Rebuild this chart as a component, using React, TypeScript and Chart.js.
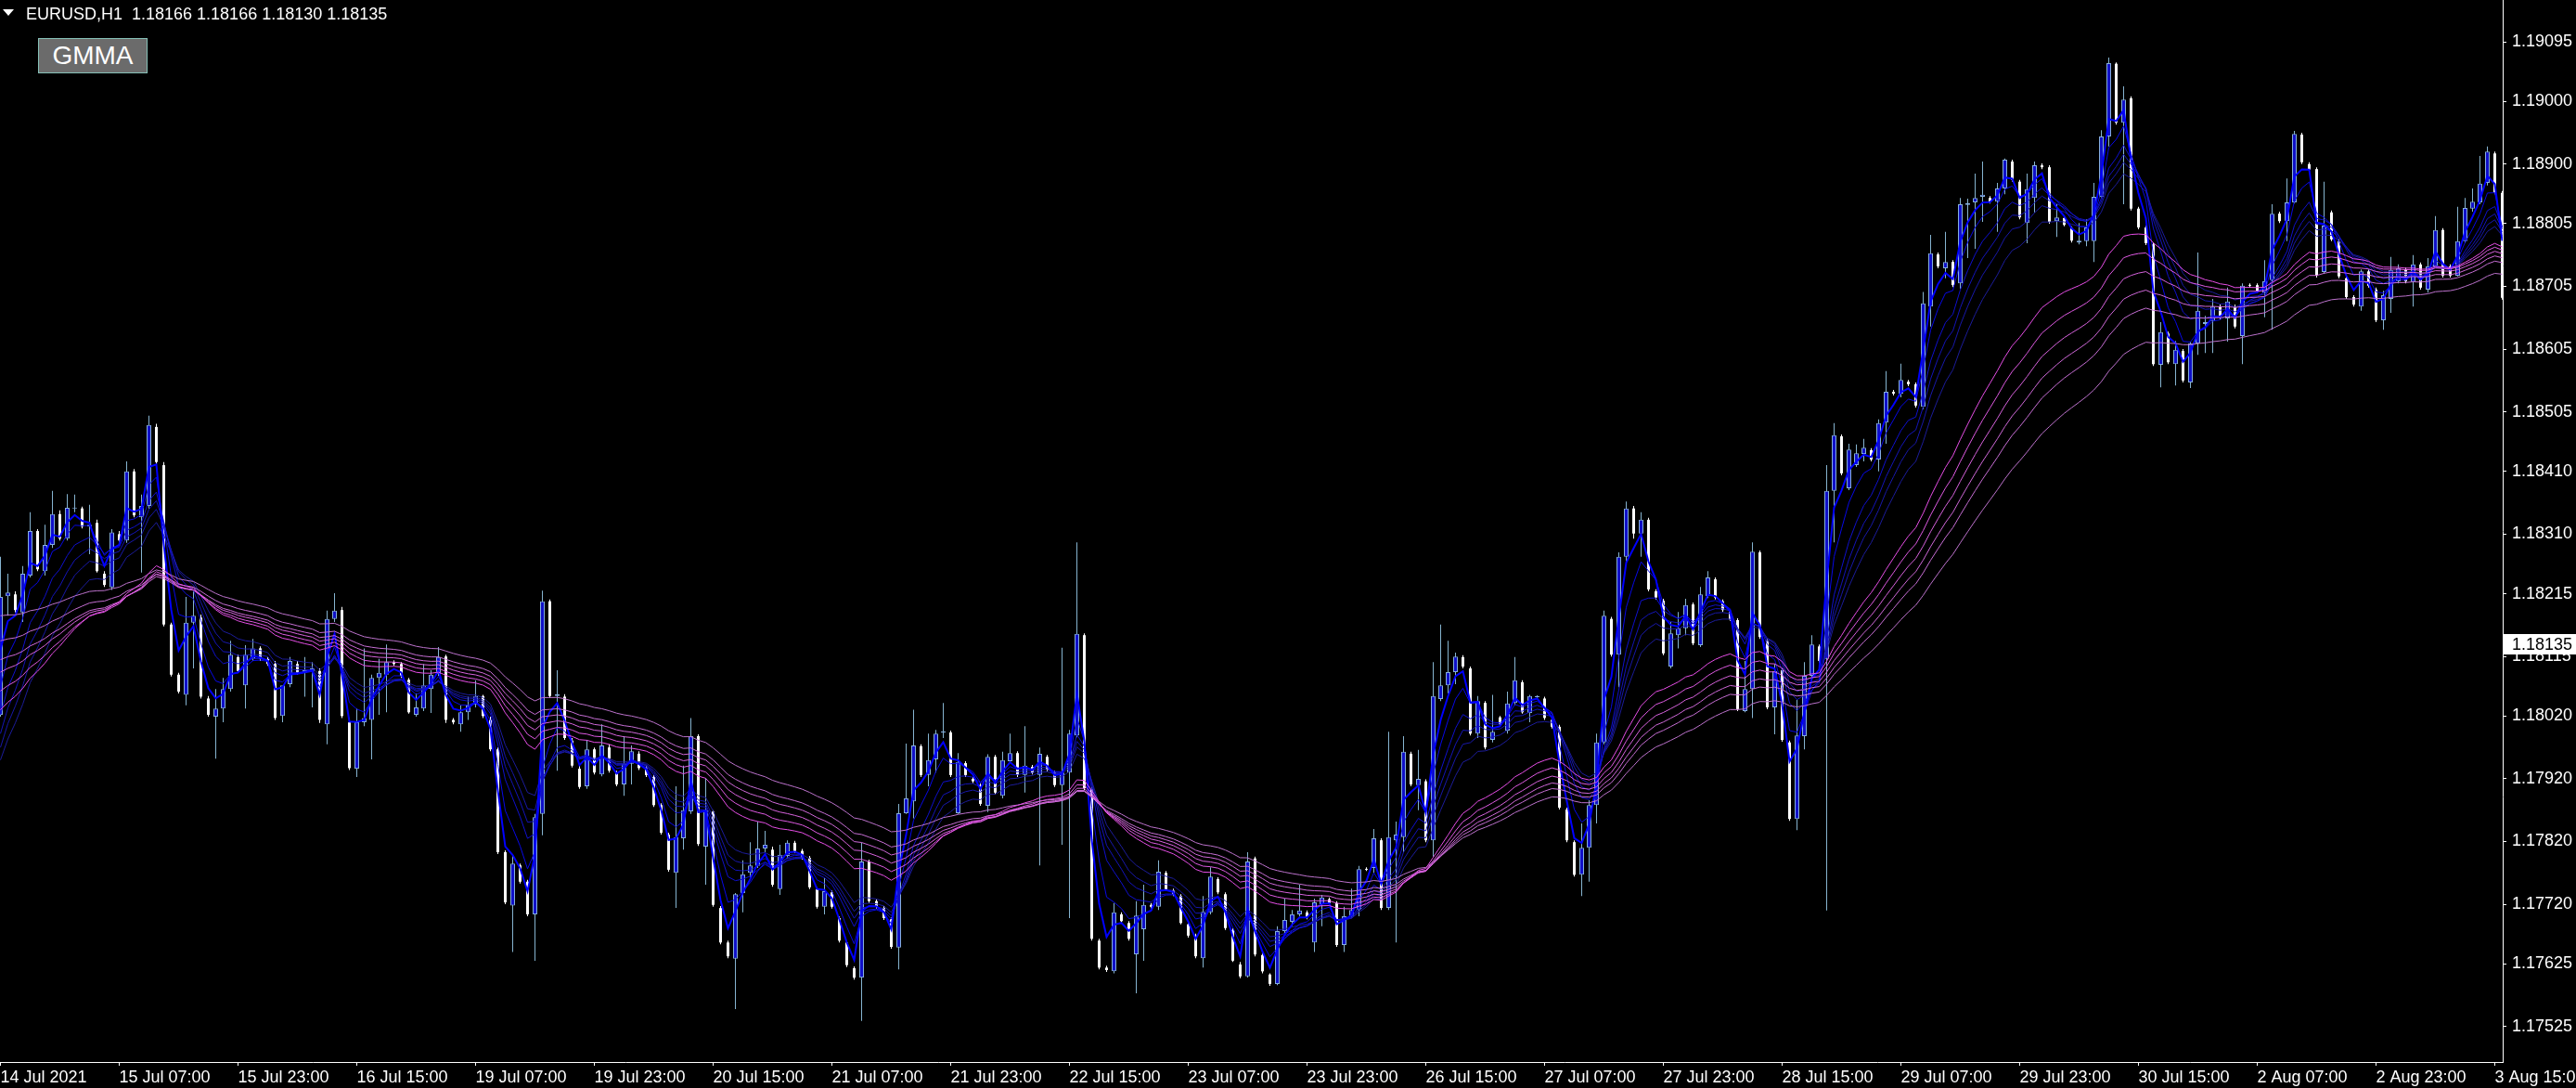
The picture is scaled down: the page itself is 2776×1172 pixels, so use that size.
import React, { useEffect, useRef } from 'react';
import { Chart, registerables } from 'chart.js';

Chart.register(...registerables);

// ---- Candle data (EURUSD H1, 14 Jul 2021 15:00 → 3 Aug 2021) ----
const opens = [
  1.18022,1.18211,1.18214,1.18185,1.18244,1.18315,1.18251,1.18293,1.18342,1.18303,
  1.18351,1.18351,1.18322,1.18328,1.18247,1.18225,1.18310,1.18300,1.18410,1.18337,
  1.18355,1.18481,1.18420,1.18166,1.18086,1.18054,1.18169,1.18177,1.18048,1.18019,
  1.18032,1.18063,1.18114,1.18069,1.18111,1.18128,1.18111,1.18103,1.18020,1.18071,
  1.18103,1.18089,1.18092,1.18092,1.18007,1.18175,1.18189,1.18010,1.17936,1.18010,
  1.18014,1.18081,1.18086,1.18106,1.18103,1.18078,1.18022,1.18032,1.18063,1.18087,
  1.18115,1.18014,1.18007,1.18026,1.18038,1.18052,1.18014,1.17967,1.17803,1.17718,
  1.17782,1.17756,1.17704,1.17864,1.18203,1.18052,1.18051,1.17981,1.17936,1.17908,
  1.17967,1.17927,1.17970,1.17930,1.17911,1.17944,1.17960,1.17937,1.17923,1.17878,
  1.17831,1.17770,1.17825,1.17868,1.17988,1.17812,1.17868,1.17714,1.17659,1.17633,
  1.17738,1.17770,1.17781,1.17809,1.17807,1.17744,1.17797,1.17818,1.17805,1.17794,
  1.17744,1.17716,1.17739,1.17698,1.17659,1.17618,1.17603,1.17788,1.17725,1.17714,
  1.17696,1.17651,1.17865,1.17884,1.17972,1.17926,1.17951,1.17994,1.17994,1.17865,
  1.17945,1.17920,1.17910,1.17877,1.17955,1.17893,1.17948,1.17961,1.17926,1.17939,
  1.17926,1.17955,1.17930,1.17910,1.17930,1.17989,1.18149,1.17904,1.17662,1.17619,
  1.17613,1.17704,1.17690,1.17640,1.17680,1.17719,1.17716,1.17770,1.17742,1.17733,
  1.17688,1.17670,1.17634,1.17707,1.17760,1.17736,1.17679,1.17624,1.17605,1.17793,
  1.17639,1.17608,1.17593,1.17677,1.17692,1.17704,1.17707,1.17659,1.17720,1.17728,
  1.17722,1.17655,1.17701,1.17711,1.17776,1.17778,1.17822,1.17714,1.17822,1.17827,
  1.17960,1.17910,1.17916,1.17822,1.18047,1.18069,1.18090,1.18114,1.18096,1.17992,
  1.18041,1.17982,1.18018,1.17997,1.18041,1.18074,1.18025,1.18050,1.18048,1.18014,
  1.18003,1.17871,1.17819,1.17767,1.17810,1.17878,1.17978,1.18175,1.18118,1.18274,
  1.18351,1.18311,1.18333,1.18219,1.18204,1.18099,1.18149,1.18160,1.18198,1.18133,
  1.18211,1.18238,1.18203,1.18186,1.18173,1.18028,1.18063,1.18281,1.18140,1.18034,
  1.18093,1.17978,1.17856,1.17988,1.18084,1.18131,1.18111,1.18379,1.18466,1.18383,
  1.18420,1.18438,1.18444,1.18429,1.18488,1.18537,1.18534,1.18553,1.18549,1.18513,
  1.18673,1.18756,1.18734,1.18744,1.18710,1.18835,1.18839,1.18848,1.18846,1.18840,
  1.18861,1.18904,1.18872,1.18806,1.18846,1.18898,1.18895,1.18809,1.18814,1.18798,
  1.18775,1.18777,1.18777,1.18848,1.18944,1.19060,1.18966,1.19005,1.18829,1.18799,
  1.18772,1.18580,1.18630,1.18581,1.18602,1.18552,1.18614,1.18645,1.18650,1.18673,
  1.18654,1.18673,1.18626,1.18707,1.18707,1.18695,1.18715,1.18821,1.18809,1.18839,
  1.18947,1.18900,1.18892,1.18728,1.18823,1.18777,1.18718,1.18688,1.18673,1.18729,
  1.18700,1.18651,1.18685,1.18713,1.18732,1.18712,1.18740,1.18700,1.18737,1.18795,
  1.18737,1.18722,1.18777,1.18829,1.18839,1.18870,1.18917,1.18854,
];

const highs = [
  1.18274,1.18247,1.18219,1.18259,1.18345,1.18318,1.18325,1.18379,1.18348,1.18374,
  1.18373,1.18354,1.18357,1.18333,1.18251,1.18318,1.18315,1.18426,1.18414,1.18373,
  1.18499,1.18486,1.18425,1.18169,1.18089,1.18210,1.18219,1.18182,1.18052,1.18063,
  1.18081,1.18140,1.18118,1.18133,1.18143,1.18131,1.18114,1.18108,1.18037,1.18114,
  1.18108,1.18114,1.18106,1.18096,1.18188,1.18216,1.18194,1.18017,1.18032,1.18128,
  1.18086,1.18111,1.18134,1.18109,1.18106,1.18081,1.18056,1.18103,1.18093,1.18130,
  1.18118,1.18017,1.18037,1.18051,1.18077,1.18054,1.18019,1.17970,1.17806,1.17797,
  1.17785,1.17759,1.17864,1.18220,1.18206,1.18093,1.18055,1.17985,1.17941,1.17982,
  1.17970,1.18007,1.17975,1.17933,1.17988,1.17973,1.17964,1.17941,1.17926,1.17881,
  1.17834,1.17908,1.17941,1.18017,1.17991,1.17921,1.17870,1.17717,1.17662,1.17738,
  1.17790,1.17819,1.17852,1.17837,1.17812,1.17815,1.17822,1.17821,1.17808,1.17797,
  1.17747,1.17762,1.17742,1.17701,1.17662,1.17621,1.17818,1.17791,1.17728,1.17717,
  1.17699,1.17880,1.17976,1.18030,1.17975,1.17992,1.17998,1.18041,1.17997,1.17961,
  1.17948,1.17923,1.17913,1.17959,1.17958,1.17963,1.17992,1.17964,1.18004,1.17942,
  1.17970,1.17958,1.17933,1.18129,1.17998,1.18297,1.18152,1.17907,1.17665,1.17622,
  1.17722,1.17707,1.17693,1.17725,1.17751,1.17722,1.17790,1.17773,1.17745,1.17736,
  1.17690,1.17673,1.17733,1.17779,1.17763,1.17739,1.17682,1.17628,1.17803,1.17796,
  1.17642,1.17610,1.17685,1.17729,1.17711,1.17751,1.17710,1.17729,1.17735,1.17731,
  1.17725,1.17716,1.17745,1.17781,1.17779,1.17840,1.17825,1.17995,1.17852,1.17988,
  1.17963,1.17966,1.17919,1.18106,1.18166,1.18140,1.18121,1.18117,1.18099,1.18052,
  1.18044,1.18054,1.18020,1.18059,1.18114,1.18077,1.18054,1.18053,1.18051,1.18017,
  1.18006,1.17874,1.17822,1.17849,1.17886,1.17992,1.18188,1.18178,1.18281,1.18362,
  1.18355,1.18345,1.18336,1.18222,1.18207,1.18170,1.18186,1.18207,1.18201,1.18226,
  1.18251,1.18241,1.18206,1.18189,1.18176,1.18108,1.18297,1.18284,1.18143,1.18103,
  1.18096,1.17981,1.18046,1.18106,1.18149,1.18134,1.18420,1.18487,1.18469,1.18454,
  1.18453,1.18462,1.18447,1.18493,1.18570,1.18540,1.18582,1.18556,1.18552,1.18696,
  1.18787,1.18759,1.18792,1.18747,1.18846,1.18845,1.18885,1.18904,1.18849,1.18870,
  1.18909,1.18907,1.18875,1.18885,1.18904,1.18901,1.18898,1.18836,1.18817,1.18801,
  1.18806,1.18812,1.18870,1.18954,1.19070,1.19062,1.19024,1.19008,1.18832,1.18802,
  1.18775,1.18648,1.18633,1.18618,1.18605,1.18617,1.18759,1.18658,1.18685,1.18676,
  1.18703,1.18676,1.18710,1.18710,1.18710,1.18747,1.18836,1.18824,1.18877,1.18953,
  1.18950,1.18903,1.18895,1.18872,1.18826,1.18780,1.18721,1.18691,1.18732,1.18732,
  1.18703,1.18698,1.18752,1.18740,1.18735,1.18755,1.18743,1.18750,1.18817,1.18798,
  1.18740,1.18832,1.18846,1.18861,1.18913,1.18928,1.18920,1.18857,
];

const lows = [
  1.18019,1.18180,1.18185,1.18170,1.18241,1.18251,1.18244,1.18288,1.18300,1.18300,
  1.18345,1.18319,1.18278,1.18249,1.18226,1.18221,1.18297,1.18296,1.18337,1.18249,
  1.18351,1.18422,1.18163,1.18083,1.18056,1.18037,1.18096,1.18048,1.18019,1.17952,
  1.18010,1.18059,1.18089,1.18032,1.18108,1.18108,1.18100,1.18014,1.18010,1.18066,
  1.18086,1.18051,1.18034,1.18009,1.17975,1.18170,1.18017,1.17934,1.17923,1.18004,
  1.17951,1.18022,1.18026,1.18100,1.18081,1.18024,1.18019,1.18028,1.18025,1.18084,
  1.18009,1.18007,1.17995,1.18014,1.18034,1.18017,1.17964,1.17800,1.17720,1.17644,
  1.17753,1.17701,1.17630,1.17830,1.18049,1.17933,1.17982,1.17938,1.17904,1.17904,
  1.17927,1.17924,1.17930,1.17908,1.17893,1.17911,1.17934,1.17923,1.17875,1.17831,
  1.17772,1.17714,1.17807,1.17864,1.17813,1.17751,1.17716,1.17656,1.17634,1.17553,
  1.17707,1.17763,1.17778,1.17803,1.17748,1.17735,1.17793,1.17802,1.17791,1.17744,
  1.17713,1.17704,1.17713,1.17659,1.17620,1.17600,1.17534,1.17722,1.17713,1.17695,
  1.17649,1.17616,1.17864,1.17857,1.17923,1.17908,1.17930,1.17985,1.17923,1.17864,
  1.17923,1.17913,1.17877,1.17867,1.17895,1.17889,1.17945,1.17923,1.17898,1.17927,
  1.17782,1.17932,1.17907,1.17815,1.17698,1.17986,1.17902,1.17662,1.17616,1.17612,
  1.17610,1.17690,1.17662,1.17578,1.17630,1.17713,1.17711,1.17741,1.17733,1.17688,
  1.17667,1.17634,1.17619,1.17704,1.17736,1.17679,1.17628,1.17602,1.17603,1.17637,
  1.17610,1.17590,1.17591,1.17674,1.17685,1.17701,1.17696,1.17644,1.17685,1.17719,
  1.17652,1.17644,1.17698,1.17701,1.17773,1.17770,1.17711,1.17711,1.17659,1.17803,
  1.17908,1.17870,1.17819,1.17796,1.18044,1.18056,1.18071,1.18096,1.17989,1.17985,
  1.17967,1.17978,1.18004,1.17992,1.18037,1.18024,1.18010,1.18048,1.18014,1.18000,
  1.17871,1.17819,1.17764,1.17733,1.17756,1.17849,1.17975,1.18115,1.18066,1.18266,
  1.18303,1.18274,1.18219,1.18206,1.18117,1.18096,1.18128,1.18149,1.18133,1.18130,
  1.18208,1.18206,1.18186,1.18172,1.18028,1.18026,1.18017,1.18143,1.18031,1.17991,
  1.17979,1.17853,1.17838,1.17967,1.18081,1.18105,1.17710,1.18297,1.18404,1.18380,
  1.18417,1.18426,1.18426,1.18410,1.18454,1.18531,1.18528,1.18546,1.18512,1.18509,
  1.18641,1.18734,1.18718,1.18704,1.18701,1.18750,1.18765,1.18808,1.18837,1.18792,
  1.18852,1.18872,1.18812,1.18774,1.18823,1.18892,1.18805,1.18784,1.18801,1.18775,
  1.18772,1.18769,1.18744,1.18846,1.18928,1.18963,1.18836,1.18826,1.18796,1.18771,
  1.18578,1.18544,1.18581,1.18547,1.18552,1.18543,1.18596,1.18599,1.18599,1.18653,
  1.18617,1.18638,1.18581,1.18703,1.18695,1.18656,1.18636,1.18806,1.18777,1.18837,
  1.18900,1.18888,1.18719,1.18725,1.18777,1.18718,1.18685,1.18673,1.18666,1.18703,
  1.18648,1.18636,1.18663,1.18710,1.18710,1.18673,1.18700,1.18695,1.18735,1.18719,
  1.18719,1.18721,1.18774,1.18824,1.18836,1.18866,1.18852,1.18684,
];

const closes = [
  1.18210,1.18217,1.18189,1.18247,1.18315,1.18254,1.18293,1.18342,1.18303,1.18352,
  1.18352,1.18322,1.18325,1.18251,1.18229,1.18313,1.18300,1.18410,1.18340,1.18355,
  1.18484,1.18425,1.18166,1.18086,1.18059,1.18169,1.18180,1.18051,1.18022,1.18032,
  1.18063,1.18118,1.18092,1.18118,1.18128,1.18111,1.18103,1.18017,1.18069,1.18108,
  1.18089,1.18093,1.18096,1.18014,1.18175,1.18188,1.18020,1.17937,1.18010,1.18017,
  1.18081,1.18089,1.18106,1.18103,1.18084,1.18026,1.18034,1.18069,1.18086,1.18114,
  1.18014,1.18010,1.18026,1.18037,1.18052,1.18020,1.17967,1.17803,1.17723,1.17785,
  1.17756,1.17704,1.17859,1.18203,1.18052,1.18055,1.17985,1.17941,1.17907,1.17967,
  1.17930,1.17973,1.17933,1.17911,1.17944,1.17964,1.17937,1.17926,1.17878,1.17834,
  1.17775,1.17827,1.17870,1.17988,1.17816,1.17870,1.17719,1.17659,1.17637,1.17736,
  1.17768,1.17782,1.17809,1.17815,1.17751,1.17799,1.17818,1.17805,1.17794,1.17747,
  1.17716,1.17741,1.17716,1.17662,1.17623,1.17603,1.17788,1.17725,1.17716,1.17698,
  1.17652,1.17865,1.17889,1.17973,1.17926,1.17950,1.17992,1.17995,1.17926,1.17947,
  1.17926,1.17916,1.17880,1.17955,1.17898,1.17950,1.17961,1.17926,1.17941,1.17930,
  1.17960,1.17935,1.17910,1.17930,1.17992,1.18151,1.17905,1.17665,1.17619,1.17615,
  1.17707,1.17693,1.17665,1.17702,1.17719,1.17716,1.17772,1.17744,1.17736,1.17690,
  1.17670,1.17637,1.17708,1.17764,1.17739,1.17682,1.17630,1.17605,1.17788,1.17640,
  1.17613,1.17593,1.17677,1.17695,1.17704,1.17710,1.17699,1.17723,1.17731,1.17722,
  1.17655,1.17701,1.17711,1.17776,1.17775,1.17825,1.17714,1.17827,1.17831,1.17963,
  1.17911,1.17920,1.17822,1.18052,1.18069,1.18090,1.18115,1.18099,1.17992,1.18044,
  1.17970,1.17995,1.18007,1.18040,1.18077,1.18026,1.18052,1.18051,1.18017,1.18003,
  1.17874,1.17822,1.17767,1.17810,1.17878,1.17978,1.18180,1.18118,1.18274,1.18351,
  1.18311,1.18333,1.18222,1.18209,1.18120,1.18152,1.18160,1.18197,1.18136,1.18214,
  1.18241,1.18209,1.18189,1.18174,1.18031,1.18063,1.18282,1.18146,1.18034,1.18092,
  1.17982,1.17856,1.17989,1.18084,1.18134,1.18108,1.18379,1.18468,1.18407,1.18445,
  1.18439,1.18448,1.18429,1.18487,1.18537,1.18534,1.18556,1.18549,1.18515,1.18678,
  1.18758,1.18737,1.18744,1.18707,1.18836,1.18838,1.18846,1.18851,1.18840,1.18861,
  1.18907,1.18875,1.18815,1.18860,1.18898,1.18895,1.18808,1.18815,1.18803,1.18778,
  1.18778,1.18799,1.18848,1.18944,1.19061,1.18966,1.19003,1.18829,1.18799,1.18774,
  1.18581,1.18632,1.18584,1.18604,1.18555,1.18614,1.18666,1.18648,1.18673,1.18656,
  1.18681,1.18641,1.18706,1.18706,1.18698,1.18713,1.18821,1.18809,1.18839,1.18948,
  1.18903,1.18891,1.18722,1.18802,1.18780,1.18721,1.18688,1.18676,1.18729,1.18706,
  1.18651,1.18691,1.18731,1.18734,1.18713,1.18740,1.18703,1.18737,1.18795,1.18722,
  1.18722,1.18777,1.18830,1.18840,1.18869,1.18920,1.18855,1.18687,
];

// ---- GMMA settings (EMA periods and their values on the first visible bar) ----
const shortPeriods = [3, 5, 8, 10, 12, 15];
const longPeriods = [30, 35, 40, 45, 50, 60];
const shortStart = [1.18126, 1.18066, 1.18022, 1.17992, 1.17970, 1.17950];
const longStart = [1.18030, 1.18060, 1.18090, 1.18110, 1.18140, 1.18180];
const shortColors = ['#0000ff', '#0808e6', '#1010cc', '#1414b8', '#1818a8', '#1c1c9a'];
const longColors = ['#e64ee6', '#de5ae2', '#d662dc', '#ce68d8', '#c66ed4', '#bc72cc'];

// ---- Axes ----
const xTickBars = [0, 16, 32, 48, 64, 80, 96, 112, 128, 144, 160, 176, 192, 208, 224, 240, 256, 272, 288, 304, 320, 336];
const xTickLabels = [
  '14 Jul 2021', '15 Jul 07:00', '15 Jul 23:00', '16 Jul 15:00', '19 Jul 07:00', '19 Jul 23:00',
  '20 Jul 15:00', '21 Jul 07:00', '21 Jul 23:00', '22 Jul 15:00', '23 Jul 07:00', '23 Jul 23:00',
  '26 Jul 15:00', '27 Jul 07:00', '27 Jul 23:00', '28 Jul 15:00', '29 Jul 07:00', '29 Jul 23:00',
  '30 Jul 15:00', '2 Aug 07:00', '2 Aug 23:00', '3 Aug 15:00',
];
const yTickValues = [
  1.19095, 1.19000, 1.18900, 1.18805, 1.18705, 1.18605, 1.18505, 1.18410, 1.18310,
  1.18215, 1.18115, 1.18020, 1.17920, 1.17820, 1.17720, 1.17625, 1.17525,
];
const priceRange = [1.174685, 1.191616];
const lastPrice = 1.18135;
const symbolTitle = 'EURUSD,H1  1.18166 1.18166 1.18130 1.18135';
const buttonText = 'GMMA';

const FONT = '"Liberation Sans", Arial, sans-serif';

function ema(values: number[], period: number, start: number): number[] {
  const k = 2 / (period + 1);
  const out = [start];
  for (let i = 1; i < values.length; i++) out.push(out[i - 1] + k * (values[i] - out[i - 1]));
  return out;
}

const priceTagPlugin = {
  id: 'priceTag',
  afterDraw(chart: any) {
    const { ctx, chartArea } = chart;
    const y = Math.round(chart.scales.y.getPixelForValue(lastPrice));
    const left = chartArea.right + 1;
    ctx.save();
    ctx.fillStyle = '#ffffff';
    ctx.fillRect(left, y - 11, chart.width - left, 22);
    ctx.fillStyle = '#000000';
    ctx.font = '18px ' + FONT;
    ctx.textBaseline = 'middle';
    ctx.textAlign = 'left';
    ctx.fillText(lastPrice.toFixed(5), chartArea.right + 10, y + 1);
    ctx.restore();
  },
};

export default function App() {
  const ref = useRef<HTMLCanvasElement | null>(null);

  useEffect(() => {
    if (!ref.current) return;
    const n = closes.length;
    const bullWick: any[] = [], bullBody: any[] = [], bearWick: any[] = [], bearBody: any[] = [];
    for (let i = 0; i < n; i++) {
      const up = closes[i] >= opens[i];
      (up ? bullWick : bearWick).push({ x: i, y: [lows[i], highs[i]] });
      (up ? bullBody : bearBody).push({ x: i, y: [opens[i], closes[i]] });
    }
    const barCommon = { type: 'bar', grouped: false, borderSkipped: false, inflateAmount: 0, minBarLength: 1 };
    const lineDs = (vals: number[], color: string, width: number, order: number) => ({
      type: 'line',
      data: vals.map((v, i) => ({ x: i, y: v })),
      borderColor: color,
      borderWidth: width,
      pointRadius: 0,
      tension: 0,
      fill: false,
      order,
    });
    const datasets: any[] = [];
    longPeriods.forEach((p, k) => datasets.push(lineDs(ema(closes, p, longStart[k]), longColors[k], 1, 1)));
    shortPeriods.forEach((p, k) => datasets.push(lineDs(ema(closes, p, shortStart[k]), shortColors[k], k === 0 ? 2 : 1, 2)));
    datasets.push({ ...barCommon, data: bullBody, backgroundColor: '#1010c8', borderColor: '#86aede', borderWidth: 1, barThickness: 5, order: 3 });
    datasets.push({ ...barCommon, data: bearBody, backgroundColor: '#ffffff', borderWidth: 0, barThickness: 3, order: 3 });
    datasets.push({ ...barCommon, data: bullWick, backgroundColor: '#86b4d0', borderWidth: 0, barThickness: 1, order: 4 });
    datasets.push({ ...barCommon, data: bearWick, backgroundColor: '#ffffff', borderWidth: 0, barThickness: 1, order: 4 });

    const chart = new Chart(ref.current, {
      type: 'bar',
      data: { datasets },
      plugins: [priceTagPlugin],
      options: {
        responsive: false,
        maintainAspectRatio: false,
        animation: false,
        events: [],
        layout: { padding: 0 },
        plugins: { legend: { display: false }, tooltip: { enabled: false } },
        scales: {
          x: {
            type: 'linear',
            position: 'bottom',
            min: -0.0625,
            max: 337.0625,
            offset: false,
            bounds: 'data',
            grid: { display: true, drawOnChartArea: false, drawTicks: true, tickLength: 4, color: '#ffffff', offset: false },
            border: { display: true, color: '#ffffff', width: 1 },
            ticks: {
              autoSkip: false,
              maxRotation: 0,
              minRotation: 0,
              align: 'start',
              padding: 2,
              color: '#ffffff',
              font: { family: FONT, size: 18 },
              callback: (_v: any, idx: number) => xTickLabels[idx],
            },
            afterBuildTicks: (s: any) => { s.ticks = xTickBars.map((v) => ({ value: v })); },
            afterFit: (s: any) => { s.height = 28; s.paddingLeft = 0; s.paddingRight = 0; },
          },
          y: {
            type: 'linear',
            position: 'right',
            min: priceRange[0],
            max: priceRange[1],
            bounds: 'data',
            grid: { display: true, drawOnChartArea: false, drawTicks: true, tickLength: 4, color: '#ffffff' },
            border: { display: true, color: '#ffffff', width: 1 },
            ticks: {
              autoSkip: false,
              padding: 6,
              color: '#ffffff',
              font: { family: FONT, size: 18 },
              callback: (v: any) => Number(v).toFixed(5),
            },
            afterBuildTicks: (s: any) => { s.ticks = yTickValues.map((v) => ({ value: v })); },
            afterFit: (s: any) => { s.width = 79; s.paddingTop = 0; s.paddingBottom = 0; },
          },
        },
      } as any,
    } as any);
    return () => chart.destroy();
  }, []);

  return (
    <div style={{ position: 'fixed', left: 0, top: 0, width: 2776, height: 1172, background: '#000000', overflow: 'hidden' }}>
      <canvas ref={ref} width={2776} height={1172} style={{ position: 'absolute', left: 0, top: 0, width: 2776, height: 1172 }} />
      <div style={{ position: 'absolute', left: 3, top: 10, width: 0, height: 0, borderLeft: '6px solid transparent', borderRight: '6px solid transparent', borderTop: '7px solid #ffffff' }} />
      <div style={{ position: 'absolute', left: 28, top: 6, fontFamily: FONT, fontSize: 18, lineHeight: '18px', color: '#ffffff', whiteSpace: 'pre' }}>{symbolTitle}</div>
      <div style={{ position: 'absolute', left: 41, top: 41, width: 116, height: 36, background: '#6b6b6b', border: '1px solid #86c0b8', color: '#ffffff', fontFamily: FONT, fontSize: 28, lineHeight: '36px', textAlign: 'center' }}>{buttonText}</div>
    </div>
  );
}
